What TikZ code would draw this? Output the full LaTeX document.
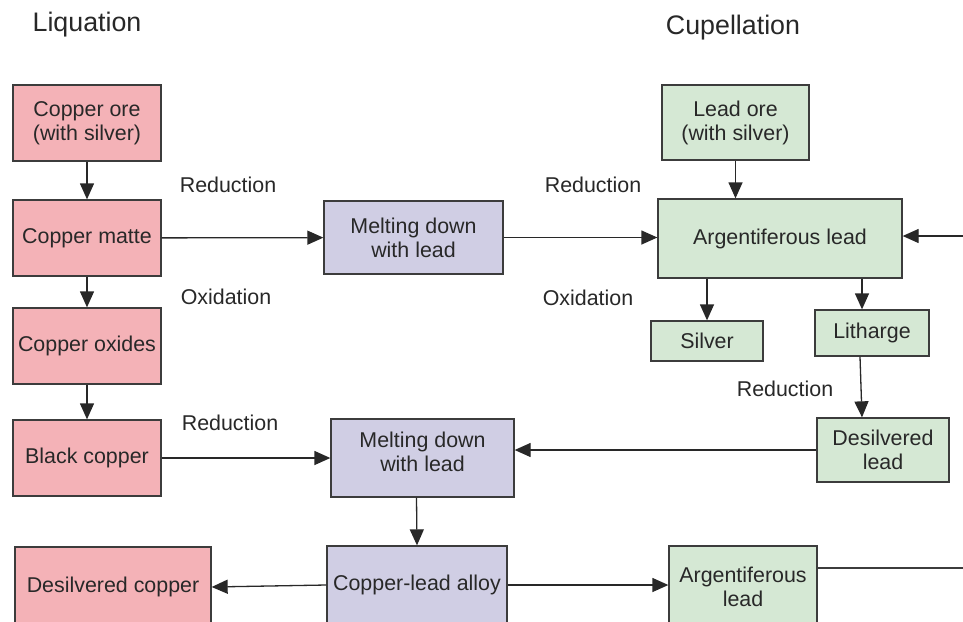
\documentclass[tikz,border=0pt]{standalone}
\usepackage{fontspec}
\setmainfont{Liberation Sans}
\usetikzlibrary{arrows.meta}
\definecolor{pinkf}{RGB}{244,178,183}
\definecolor{greenf}{RGB}{213,232,212}
\definecolor{purplef}{RGB}{208,206,228}
\definecolor{edgec}{RGB}{60,60,60}
\definecolor{txtc}{RGB}{40,40,40}
\tikzset{
  box/.style={draw=edgec, line width=1.3pt, inner sep=0pt, align=center, text=txtc,
    font=\fontsize{21.4}{24}\selectfont},
  cu/.style={box, fill=pinkf},
  pb/.style={box, fill=greenf},
  mx/.style={box, fill=purplef},
  conn/.style={draw=txtc, line width=1.3pt, -{Triangle[length=16pt,width=14pt]}},
  plain/.style={draw=edgec, line width=1.3pt},
  lbl/.style={text=txtc, font=\fontsize{21.4}{24}\selectfont, inner sep=0pt},
  ttl/.style={text=txtc, font=\fontsize{26.8}{30}\selectfont, inner sep=0pt}
}
\begin{document}
\begin{tikzpicture}[x=1pt,y=-1pt]
\useasboundingbox (0,0) rectangle (963,621);
\clip (0,0) rectangle (963,621);
\fill[white] (0,0) rectangle (963,621);
% titles
\node[ttl] (t1) at (87,25) {Liquation};
\node[ttl] (t2) at (733,28) {Cupellation};
% copper column
\node[cu, minimum width=148pt, minimum height=76pt] (ore) at (87,123) {Copper ore\\(with silver)};
\node[cu, minimum width=148pt, minimum height=76pt] (matte) at (87,238) {Copper matte};
\node[cu, minimum width=148pt, minimum height=76pt] (oxides) at (87,346) {Copper oxides};
\node[cu, minimum width=148pt, minimum height=76pt] (black) at (87,458) {Black copper};
\node[cu, minimum width=196pt, minimum height=80pt] (dcopper) at (113,587) {Desilvered copper};
% mixing
\node[mx, minimum width=179pt, minimum height=73pt] (melt1) at (413.5,237.5) {Melting down\\with lead};
\node[mx, minimum width=183pt, minimum height=78pt] (melt2) at (422.5,458) {\raisebox{3.5pt}[\height][\depth]{\begin{tabular}{@{}c@{}}Melting down\\with lead\end{tabular}}};
\node[mx, minimum width=180pt, minimum height=78pt] (alloy) at (417,585) {Copper-lead alloy};
% lead column
\node[pb, minimum width=147pt, minimum height=75pt] (lead) at (735.5,122.5) {Lead ore\\(with silver)};
\node[pb, minimum width=244pt, minimum height=79pt] (arg) at (780,238.5) {Argentiferous lead};
\node[pb, minimum width=112pt, minimum height=40pt] (silver) at (707,341) {Silver};
\node[pb, minimum width=114pt, minimum height=46pt] (lith) at (872,333) {Litharge};
\node[pb, minimum width=132pt, minimum height=64pt] (dlead) at (883,450) {Desilvered\\lead};
\node[pb, minimum width=148pt, minimum height=82pt] (arg2) at (743,587) {Argentiferous\\lead};
% free ends
\coordinate (rin) at (963,236);
\coordinate (rout) at (963,568);
% labels
\node[lbl] (l1) at (228,185) {Reduction};
\node[lbl] (l2) at (226,297) {Oxidation};
\node[lbl] (l3) at (230,423) {Reduction};
\node[lbl] (l4) at (593,185) {Reduction};
\node[lbl] (l5) at (588,298) {Oxidation};
\node[lbl] (l6) at (785,389) {Reduction};
% connectors
\draw[conn] (ore) -- (matte);
\draw[conn] (matte) -- (oxides);
\draw[conn] (oxides) -- (black);
\draw[conn] (matte) -- (melt1);
\draw[conn] (melt1.east) -- (melt1.east -| arg.west);
\draw[conn] (black) -- (black -| melt2.west);
\draw[conn] (lead) -- (lead.south |- arg.north);
\draw[conn] (silver.north |- arg.south) -- (silver.north);
\draw[conn] ([xshift=-10pt]lith.north |- arg.south) -- ([xshift=-10pt]lith.north);
\draw[conn] ([xshift=-12pt]lith.south) -- ([xshift=-21pt]dlead.north);
\draw[conn] (dlead.west) -- (dlead.west -| melt2.east);
\draw[conn] ([xshift=-6pt]melt2.south) -- (alloy.north);
\draw[conn] (alloy.west) -- (dcopper.east);
\draw[conn] (alloy.east) -- (alloy.east -| arg2.west);
\draw[conn] (rin) -- (rin -| arg.east);
\draw[plain] (rout -| arg2.east) -- (rout);
\end{tikzpicture}
\end{document}
